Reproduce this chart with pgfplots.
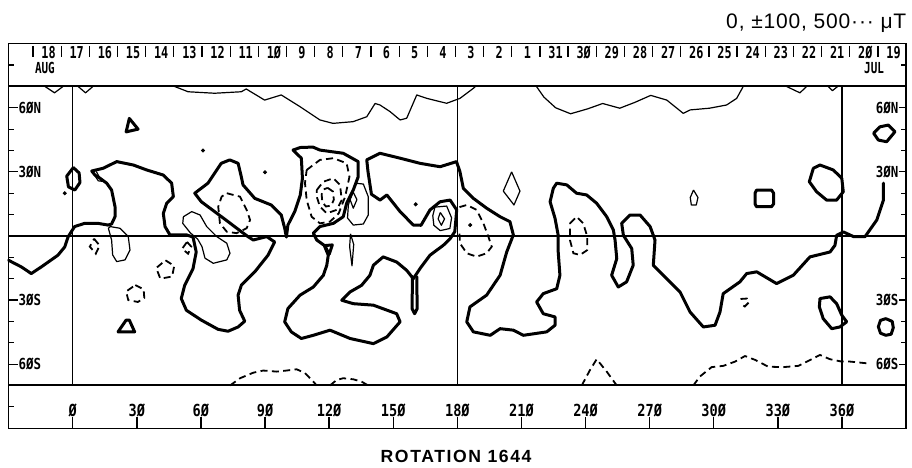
\documentclass[border=0pt]{standalone}
\usepackage{fontspec}
\setmainfont{Liberation Sans}
\newfontfamily\plotfont[FakeStretch=0.82]{DejaVu Sans Mono Bold}
\newfontfamily\datefont[FakeStretch=0.72]{DejaVu Sans Mono Bold}
\newfontfamily\rotfont[LetterSpace=9]{Liberation Sans Bold}
\newfontfamily\titfont[LetterSpace=4]{Liberation Sans}
\usepackage{pgfplots}
\pgfplotsset{compat=1.18}
\tikzset{
  thk/.style={black,line width=1.5pt,line join=round,line cap=round},
  thn/.style={black,line width=0.6pt,line join=round},
  dsh/.style={black,line width=0.9pt,dash pattern=on 3.5pt off 2.2pt},
}
\newcommand\dl[2]{\node[font=\datefont\fontsize{8.2}{8}\selectfont,inner sep=0pt] at (axis cs:#1,86) {#2};}
\newcommand\bl[1]{\node[font=\plotfont\fontsize{8.3}{8}\selectfont,inner sep=0pt] at (axis cs:#1,-81.5) {\ifnum#1=0 Ø\else\the\numexpr#1/10\relax Ø\fi};\draw[line width=0.7pt] (axis cs:#1,-84.8) -- (axis cs:#1,-90);}
\begin{document}
\begin{tikzpicture}
\begin{axis}[
  scale only axis, width=448.8pt, height=192.3pt,
  xmin=-30, xmax=390, ymin=-90, ymax=90,
  ticks=none, clip=false,
  axis line style={line width=0.7pt},
]
% frame lines
\draw[line width=1pt] (axis cs:-30,70) -- (axis cs:390,70);
\draw[line width=1pt] (axis cs:-30,-70) -- (axis cs:390,-70);
\draw[line width=1pt] (axis cs:-30,0) -- (axis cs:390,0);
\draw[line width=0.6pt] (axis cs:0,-70) -- (axis cs:0,70);
\draw[line width=0.6pt] (axis cs:180,-70) -- (axis cs:180,70);
\draw[line width=0.6pt] (axis cs:360,-70) -- (axis cs:360,70);
% left/right ticks
\pgfplotsinvokeforeach{80,50,40,20,10,-10,-20,-40,-50,-80}{
  \draw[line width=0.6pt] (axis cs:-30,#1) -- (axis cs:-27.5,#1);}
\pgfplotsinvokeforeach{80,50,40,20,10,-10,-20,-40,-50}{
  \draw[line width=0.6pt] (axis cs:390,#1) -- (axis cs:387.5,#1);}
\pgfplotsinvokeforeach{60,30,-30,-60}{
  \draw[line width=0.6pt] (axis cs:-30,#1) -- (axis cs:-25.5,#1);
  \draw[line width=0.6pt] (axis cs:390,#1) -- (axis cs:386.6,#1);}
\begin{scope}[every node/.style={font=\plotfont\fontsize{7.6}{7.6}\selectfont,inner sep=0pt}]
\node[anchor=west] at (axis cs:-25.5,60) {6ØN};
\node[anchor=west] at (axis cs:-25.5,30) {3ØN};
\node[anchor=west] at (axis cs:-25.5,-30) {3ØS};
\node[anchor=west] at (axis cs:-25.5,-60) {6ØS};
\node[anchor=east] at (axis cs:386.6,60) {6ØN};
\node[anchor=east] at (axis cs:386.6,30) {3ØN};
\node[anchor=east] at (axis cs:386.6,-30) {3ØS};
\node[anchor=east] at (axis cs:386.6,-60) {6ØS};
\end{scope}
% bottom labels
\bl{0}\bl{30}\bl{60}\bl{90}\bl{120}\bl{150}\bl{180}\bl{210}\bl{240}\bl{270}\bl{300}\bl{330}\bl{360}
% day ticks and labels
\pgfplotsinvokeforeach{-18.6,-5.42,7.76,20.94,34.12,47.3,60.48,73.66,86.84,100.02,113.2,126.38,139.56,152.74,165.92,179.1,192.28,205.46,218.64,231.82,245,258.18,271.36,284.54,297.72,310.9,324.08,337.26,350.44,363.62,376.8}{
  \draw[line width=0.6pt] (axis cs:#1,89) -- (axis cs:#1,84);}
\dl{-11.3}{18}\dl{1.88}{17}\dl{15.06}{16}\dl{28.24}{15}\dl{41.42}{14}\dl{54.6}{13}\dl{67.78}{12}\dl{80.96}{11}
\dl{94.14}{1Ø}\dl{107.32}{9}\dl{120.5}{8}\dl{133.68}{7}\dl{146.86}{6}\dl{160.04}{5}\dl{173.22}{4}\dl{186.4}{3}
\dl{199.58}{2}\dl{212.76}{1}\dl{225.94}{31}\dl{239.12}{3Ø}\dl{252.3}{29}\dl{265.48}{28}\dl{278.66}{27}\dl{291.84}{26}
\dl{305.02}{25}\dl{318.2}{24}\dl{331.38}{23}\dl{344.56}{22}\dl{357.74}{21}\dl{370.92}{2Ø}\dl{384.1}{19}
\node[font=\datefont\fontsize{7.6}{7}\selectfont,inner sep=0pt] at (axis cs:-13,78.5) {AUG};
\node[font=\datefont\fontsize{7.6}{7}\selectfont,inner sep=0pt] at (axis cs:375,78.5) {JUL};
% titles
\node[anchor=base east,inner sep=0pt,font=\titfont\fontsize{10.5}{12}\selectfont] at (axis cs:390.3,97.3) {0, ±100, 500··· μT};
\node[anchor=base,inner sep=0pt,font=\rotfont\fontsize{8.8}{10}\selectfont] at (axis cs:179.4,-106.2) {ROTATION 1644};

% ---- contours: thick (main) ----
\addplot[thk] coordinates {(-30,-11.4) (-24,-14.5) (-19.4,-17.6) (-14.7,-14.5) (-6.9,-9) (-3.7,-5.1) (-2.2,-0.5) (-0.7,1.9) (0.9,4.4) (5.6,5.9) (11.8,5.9) (16.5,5.1) (18.2,5.6) (19.8,9) (19.8,13.7) (18.2,21.5) (15.9,24.7) (12.8,27) (10.4,28.5) (8.9,30.4) (14.3,31.7) (20.6,34.8) (28.4,33.2) (34.6,30.9) (42.4,28.5) (46.3,24.7) (47.1,18.4) (44,15.3) (42.4,10.6) (43.2,4.4) (45.5,0.5) (53.3,0.5) (56.3,-0.5) (57.8,-7.5) (56.3,-15.3) (52.4,-23.1) (50.8,-29.3) (53.2,-34.8) (60.2,-39.4) (68,-43.7) (72.7,-44.6) (77.4,-42.6) (80.5,-39.9) (78.1,-34.8) (77.4,-27.7) (78.9,-23.1) (85.2,-16.8) (91.4,-9) (94.5,-2.8) (90.8,-0.3) (84.5,-1.9) (82,-0.3) (78.9,2) (72.7,6.7) (66.4,11.4) (60.2,16) (57.1,20) (63.3,24.7) (69.5,34) (73.5,35.6) (77.4,34) (78.9,27.7) (79.7,23.9) (85.2,17.6) (92.9,14.5) (97.6,9.8) (99.2,3.6) (100,-0.5) (100.7,5.1) (103.9,11.4) (106.5,19.2) (107.5,27) (107,36.4) (103.1,40.2) (106.5,41.4) (112.4,41.6) (115.7,40.2) (126.6,38.7) (133.6,34.8) (133.6,27.7) (131.3,21.5) (128.2,15.3) (126.6,9) (122,5.9) (115.7,4.4) (112.6,1.3) (114.2,-1.9) (117.7,-4.4) (119.6,-9) (118.9,-13.7) (117.3,-18.4) (112.6,-23.9) (106.4,-27.7) (100.7,-34) (99.2,-40.2) (102.3,-44.9) (107,-48) (112.6,-46.5) (120.4,-44.1) (129.8,-48) (140.7,-50.4) (147,-47.3) (153.2,-40.2) (151.6,-36.4) (140.7,-32.4) (131.3,-31.7) (125.9,-30.1) (129.8,-26.2) (135.2,-23.1) (139.1,-18.4) (140.7,-13.7) (145.3,-9.8) (151.6,-12.2) (156.3,-16.1) (159.4,-20) (162.5,-15.3) (167.2,-9) (173.4,-4.4) (176.6,-1.3) (178.8,2) (179.7,12.2) (176.6,16.8) (171.9,16) (167.2,12.2) (163,5) (159.4,5.1) (153.2,11.4) (147,19.2) (143.8,16.8) (139.8,19.5) (138.2,30) (137.6,35.6) (143.8,38.7) (153.2,36.4) (162.5,34) (171.9,32.4) (179.6,34.8) (181.2,30.1) (182.8,22.3) (187.5,17.6) (193.7,13) (200,9) (204.6,6.7) (206.2,0.5) (203.1,-7.5) (200,-18.4) (193.7,-27.7) (185.9,-33.2) (184.4,-40.2) (187.5,-44.9) (195.4,-46.5) (200,-43.4) (206.2,-44.1) (210.9,-46.5) (221.8,-44.9) (225.7,-41.8) (225.7,-37.9) (220.2,-36.4) (217.1,-30.9) (220.2,-27) (226.5,-24.7) (228,-18.4) (227.2,-7.5) (227.2,0.3) (225.7,8.3) (223.4,16) (224.9,22.3) (226.5,24.7) (231.2,23.9) (235.8,20) (240.5,19.2) (245.2,15.3) (249.9,9) (253,2.8) (253.8,-1.9) (254.6,-10.6) (252.2,-18.4) (255.3,-23.9) (259.2,-21.5) (262.3,-13.7) (261.6,-5.9) (257.7,0.3) (256.9,5.9) (260.8,9.8) (265.5,9.8) (270.2,4.4) (272.5,-1.9) (271.7,-13.7) (278,-20) (284.2,-26.2) (288.9,-35.6) (295.1,-42.6) (300.6,-41.8) (302.9,-35.6) (304.4,-27) (312.2,-21.5) (315.4,-17.6) (320.1,-16.8) (329.4,-22.3) (337.2,-18.4) (345,-9.8) (354.4,-7.5) (356.7,-4.4) (357.5,0.3) (360.6,1.9) (365.4,-0.3) (370.8,-0.3) (376.3,7.5) (379.4,16.8) (379.4,24.7)};
% thick small shapes
\addplot[thk] coordinates {(0.3,32) (3,29.5) (3.4,25) (1,21.5) (-2,23) (-2.8,28) (0.3,32)};
\addplot[thk] coordinates {(25,48.7) (26.5,55) (30.6,50) (25,48.7)};
\addplot[thk] coordinates {(21.2,-44.9) (25,-39.4) (26.5,-39.4) (29,-44.9) (21.2,-44.9)};
\addplot[thk] coordinates {(118,-4.5) (121.5,-4.2) (120,-8.6) (118,-4.5)};
\addplot[thk] coordinates {(159,-19) (158.8,-34) (160,-36.4) (161.2,-34) (161,-19)};
\addplot[thk] coordinates {(346.6,31.7) (349.7,33.2) (355.9,30.9) (359.9,27) (360.6,20.7) (357.5,16.8) (352.8,16.8) (348.1,20.7) (344.7,25.4) (346.6,31.7)};
\addplot[thk] coordinates {(320,21.5) (327,21.5) (328,20) (328,15) (327,13.7) (320,13.7) (319.3,15) (319.3,20) (320,21.5)};
\addplot[thk] coordinates {(374.8,48.1) (377.8,51.1) (381.7,51.9) (384.8,48.8) (380.9,44.1) (377,44.9) (374.8,48.1)};
\addplot[thk] coordinates {(349.7,-29.3) (354.4,-28.5) (357.5,-31.7) (359.9,-37.1) (362.2,-40.2) (359,-42.6) (355.2,-43.4) (351.2,-38.7) (349.4,-33.2) (349.7,-29.3)};
\addplot[thk] coordinates {(380.5,-38.7) (383.5,-40) (384,-43) (383,-46) (380.5,-46.5) (378,-45.5) (377,-42.5) (378,-39.5) (380.5,-38.7)};
% ---- thin ----
\addplot[thn] coordinates {(47.6,70) (54,67.5) (66.4,66.8) (78.9,67.5) (81.2,68.8) (89.8,63.6) (97.6,66) (106.4,60.5) (115.7,54.3) (121.8,52.7) (131.2,53.5) (137.6,55.8) (141.5,62) (143.8,61.3) (148.5,58.2) (153.2,54.3) (156.3,55.1) (161,66) (165.7,64.4) (175,62.1) (181.2,64.4) (187.5,69.1) (188.5,70)};
\addplot[thn] coordinates {(217,70) (220.5,65) (226,60) (233,57.2) (241,59.5) (248,62) (256,59.8) (263,62.5) (270.5,65.8) (278,63.6) (285.7,57.4) (289,59) (298,59.8) (306,61.3) (310.7,64.4) (313.8,70)};
\addplot[thn] coordinates {(-13,70) (-8.5,67) (-4.5,70)};
\addplot[thn] coordinates {(2.5,70) (6,67) (9.5,70)};
\addplot[thn] coordinates {(334,70) (340.3,67) (343.5,70)};
\addplot[thn] coordinates {(353.5,70) (355.5,68) (358,70)};
\addplot[thn] coordinates {(8.9,30.4) (12,25.8) (13.6,25.6) (11,30.2)};
\addplot[thn] coordinates {(17.5,4.4) (22.1,3.6) (26,-0.3) (26.8,-6.6) (24.5,-11.2) (20.6,-12) (18.7,-8.9) (18.2,-1.9) (16.7,3.6) (17.5,4.4)};
\addplot[thn] coordinates {(51.8,9) (55.7,11.4) (59.6,9.8) (62.7,4.4) (67.4,-0.3) (72.1,-3.4) (73.6,-8.1) (72.1,-11.2) (65.8,-12.8) (61.9,-10.4) (60.5,-5) (58.5,-1.5) (55,1.5) (51.5,5.9) (51.8,9)};
\addplot[thn] coordinates {(132.2,24.7) (136,24.3) (138.3,18.4) (138.3,9.8) (136,5.6) (131.3,5.1) (128.6,8.4) (129,14.5) (130.8,20.5) (132.2,24.7)};
\addplot[thn] coordinates {(131.3,20.5) (133,17) (131.3,13) (129.8,17) (131.3,20.5)};
\addplot[thn] coordinates {(130,1) (131.5,-4) (130.7,-14) (129.6,-5) (130,1)};
\addplot[thn] coordinates {(169.5,13.5) (175,14) (177.3,8.5) (176.5,3.5) (172,2.5) (169,5) (168.5,9.5) (169.5,13.5)};
\addplot[thn] coordinates {(172,11) (174,8) (172.5,5) (171,8) (172,11)};
\addplot[thn] coordinates {(205.4,30) (209.3,21) (206.5,14.5) (201.5,21) (205.4,30)};
\addplot[thn] coordinates {(290.5,21.5) (292.6,18) (291.8,14.5) (289.5,14.5) (289,18) (290.5,21.5)};
% ---- dashed ----
\addplot[dsh] coordinates {(109.5,30.9) (115.7,35.6) (122,36.4) (128.2,34) (129.5,27.7) (127.5,18.4) (124.5,10.6) (120.4,6.7) (115.7,5.9) (111.8,9) (109.5,16.8) (108.7,24.7) (109.5,30.9)};
\addplot[dsh] coordinates {(114.2,21.5) (117.3,25.4) (122,27) (125.1,23.9) (125.9,16.8) (123.5,12.2) (118.9,10.6) (115.7,13.7) (114.2,18.4) (114.2,21.5)};
\addplot[dsh] coordinates {(119.3,22.5) (121.8,20.8) (122.2,17) (121,14.2) (118.5,13.8) (116.8,15.8) (116.5,19.5) (117.4,21.8) (119.3,22.5)};
\addplot[dsh] coordinates {(72.1,20) (78.3,18.4) (81.4,12.2) (83,7.5) (81.4,3.6) (76.7,1.3) (72.1,2) (68.9,5.9) (68.1,13.7) (69.7,18.4) (72.1,20)};
\addplot[dsh] coordinates {(181,13.5) (184.4,14.5) (189,12.2) (192.2,5.9) (194.5,-0.3) (196.1,-5) (193.7,-8.1) (189,-9.7) (184.4,-8.1) (181.2,-3.4) (181,1.3)};
\addplot[dsh] coordinates {(232.7,5.9) (235.8,9) (238.9,5.9) (240.8,-0.3) (240.8,-6.6) (237.4,-8.9) (234.3,-8.1) (232.7,-1.9) (232.7,5.9)};
\addplot[dsh] coordinates {(10,-1.3) (12.6,-4.5) (10.8,-8.3) (8,-5) (10,-1.3)};
\addplot[dsh] coordinates {(53.5,-2.8) (55.5,-5) (54,-8.3) (51.2,-6) (53.5,-2.8)};
\addplot[dsh] coordinates {(43.4,-11.4) (47.5,-14) (46.5,-19) (41,-20) (39.1,-15) (43.4,-11.4)};
\addplot[dsh] coordinates {(29.3,-23) (33.2,-25) (33.5,-29) (30.5,-30.9) (26,-30) (25,-26) (29.3,-23)};
\addplot[dsh] coordinates {(73.6,-70) (78.3,-66.6) (84.5,-64) (89.2,-63) (95.5,-63.5) (100.1,-63) (104.8,-62.4) (108.7,-64.2) (112.6,-68.2) (114.2,-70)};
\addplot[dsh] coordinates {(120.4,-70) (123.5,-67.4) (126.6,-66.6) (131.3,-67.1) (135.2,-68.2) (138.3,-70)};
\addplot[dsh] coordinates {(238.2,-70) (242.1,-62.7) (245.2,-57.7) (249.9,-63.5) (254.6,-70)};
\addplot[dsh] coordinates {(290.4,-70) (293.5,-65.8) (299,-61.4) (304.5,-60.8) (310,-58.8) (314.6,-56.2) (319.3,-58) (325.5,-61.2) (332.5,-61.4) (339.6,-60.8) (345.8,-57.7) (349.7,-55.7) (354.4,-57.7) (359.8,-58.8) (363.7,-58.8) (371.5,-59.6)};
\addplot[dsh] coordinates {(312.5,-29.5) (315.5,-29.3) (316.5,-31) (314.5,-33) (313,-32)};
% dots
\addplot[only marks, mark=*, mark size=0.8pt, black] coordinates {(-3.7,20) (61,40) (90,29.8) (160.5,14.8) (186,5.1)};
\end{axis}
\pgfresetboundingbox
\path[use as bounding box] ([shift={(-4.3pt,-19.85pt)}]current axis.south west) rectangle ([shift={(2.95pt,21.85pt)}]current axis.north east);
\end{tikzpicture}
\end{document}
